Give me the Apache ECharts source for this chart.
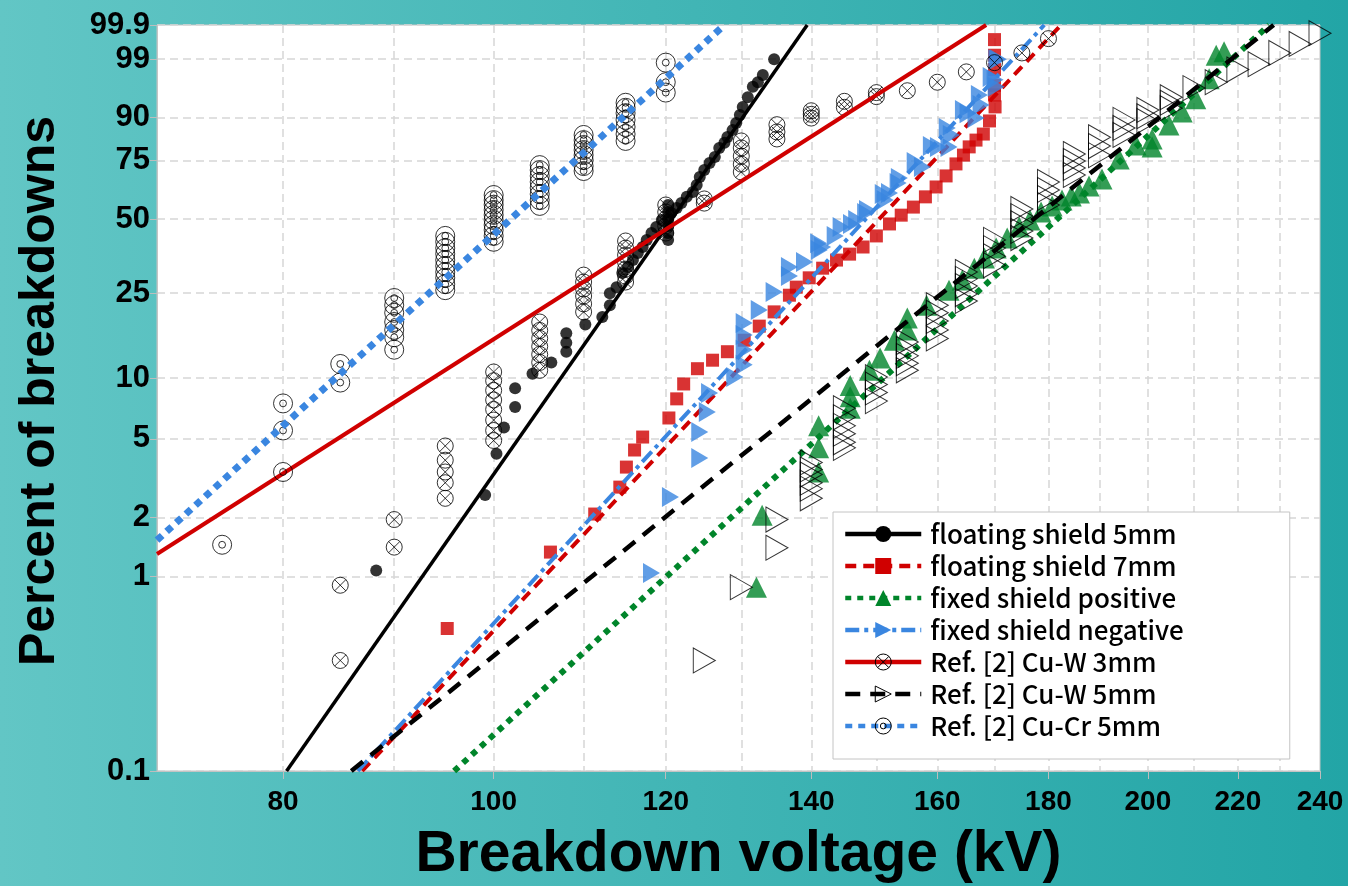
<!DOCTYPE html>
<html>
<head>
<meta charset="utf-8">
<script src="https://cdn.jsdelivr.net/npm/echarts@6/dist/echarts.min.js"></script>
<style>
  html, body { margin: 0; padding: 0; width: 1348px; height: 886px; overflow: hidden; }
  #chart { width: 1348px; height: 886px; }
</style>
</head>
<body>
<div id="chart"></div>
<script>
// Weibull probability plot of breakdown voltages.
// Horizontal scale: ln(kV); vertical scale: ln(-ln(1 - p)).

const xRange = [70, 240];
const yRange = [0.1, 99.9];
const xLabelValues = [80, 100, 120, 140, 160, 180, 200, 220, 240];
const xGridValues = [80, 90, 100, 110, 120, 130, 140, 150, 160, 170, 180, 190, 200, 210, 220, 230];
const yLabelValues = [0.1, 1, 2, 5, 10, 25, 50, 75, 90, 99, 99.9];
const yLabelTexts = ['0.1', '1', '2', '5', '10', '25', '50', '75', '90', '99', '99.9'];

const seriesNames = [
  'floating shield 5mm',
  'floating shield 7mm',
  'fixed shield positive',
  'fixed shield negative',
  'Ref. [2] Cu-W 3mm',
  'Ref. [2] Cu-W 5mm',
  'Ref. [2] Cu-Cr 5mm'
];

// measured points: [kV, percent]
const floating5Points = [
  [88.3, 1.07], [99.1, 2.6], [100.3, 4.2], [101.1, 5.7], [102.3, 7.2], [102.3, 8.9], [104.2, 10.5],
  [106.3, 11.9], [108.0, 13.4], [108.0, 14.8], [108.0, 16.4], [110.2, 18.0], [112.2, 19.5], [113.1, 22.1],
  [113.1, 25.0], [113.9, 26.6], [114.6, 30.6], [115.3, 32.5], [115.9, 34.7], [116.5, 37.1], [117.1, 39.2],
  [117.6, 41.8], [118.2, 44.4], [118.8, 46.8], [119.5, 49.6],
  [120.3, 41.8], [120.3, 44.4], [120.3, 47.2], [120.3, 50.0], [120.3, 52.9], [120.3, 55.9],
  [120.7, 52.5], [121.4, 54.6], [122.0, 56.7], [122.7, 59.4], [123.5, 61.5], [124.0, 64.6], [124.4, 68.0],
  [125.0, 71.0], [125.7, 74.0], [126.4, 76.4], [127.0, 80.0], [127.7, 81.9], [128.1, 84.0], [128.8, 86.3],
  [129.3, 88.5], [129.8, 90.7], [130.2, 92.7], [130.9, 94.7], [131.6, 96.4], [132.3, 97.0], [133.0, 97.8],
  [134.6, 99.0]
];
const floating7Points = [
  [95.2, 0.54], [106.2, 1.33], [111.3, 2.08], [114.3, 2.85], [115.1, 3.6], [116.1, 4.39], [117.1, 5.1],
  [120.4, 6.35], [121.4, 7.9], [122.3, 9.35], [124.1, 11.1], [126.1, 12.2], [128.1, 13.4],
  [130.4, 15.2], [132.5, 17.7], [134.6, 20.6], [136.8, 24.5], [137.8, 26.6], [139.7, 29.2], [141.7, 32.1],
  [143.8, 34.7], [145.8, 36.7], [147.9, 39.2], [150.0, 43.3], [152.1, 48.0], [154.0, 51.6], [156.0, 55.0],
  [158.0, 59.4], [159.8, 63.7], [161.5, 68.5], [163.2, 73.6], [164.5, 77.2], [165.5, 80.4], [166.7, 82.9],
  [168.0, 85.0], [169.1, 89.1], [170.1, 92.7],
  [170.0, 95.1], [170.0, 96.6], [170.0, 98.3], [170.0, 99.2], [170.0, 99.7]
];
const positivePoints = [
  [132.1, 0.88], [132.9, 2.05], [141.1, 3.4], [141.1, 4.5], [141.1, 5.8], [145.9, 7.1], [145.9, 8.1],
  [145.9, 9.2], [148.9, 10.9], [150.6, 12.5], [152.9, 15.2], [155.0, 17.0], [155.0, 19.3], [158.2, 22.1],
  [162.0, 25.8], [164.3, 28.6], [166.4, 32.1], [168.2, 35.4], [170.3, 38.8], [172.3, 42.5], [174.5, 46.8],
  [176.5, 49.6], [178.6, 52.9], [180.7, 55.5], [182.6, 58.0], [184.4, 59.8], [186.0, 61.1], [187.9, 64.1],
  [190.5, 67.2], [194.0, 75.6], [197.5, 81.1], [200.9, 80.4], [200.9, 83.3], [204.5, 87.9],
  [207.4, 91.5], [210.4, 94.4], [213.4, 97.4], [215.0, 99.2], [216.8, 99.35]
];
const negativePoints = [
  [118.2, 1.04], [120.6, 2.54], [124.4, 4.0], [124.4, 5.4], [125.4, 6.8], [125.7, 8.45], [129.1, 10.1],
  [130.4, 11.6], [130.4, 13.7], [130.4, 16.1], [130.4, 18.3], [132.5, 21.0], [134.6, 25.3], [136.8, 29.7],
  [136.8, 32.5], [139.0, 34.1], [141.1, 40.6], [141.2, 38.1], [141.7, 39.2], [143.6, 43.3], [144.5, 46.8],
  [146.1, 48.0], [146.9, 49.6], [148.3, 52.5], [148.6, 53.8], [151.1, 60.6], [151.4, 58.0], [152.1, 61.1],
  [153.5, 65.4], [153.7, 67.6], [156.3, 74.4], [157.5, 72.3], [159.0, 80.7], [160.2, 80.4], [161.7, 87.0],
  [162.0, 80.4], [162.4, 84.7], [164.5, 92.0], [165.3, 91.2], [166.7, 89.9], [167.3, 95.1], [167.6, 93.1],
  [169.4, 97.6], [170.1, 97.3], [170.3, 96.4], [170.4, 99.0], [170.7, 99.0]
];
const cuW3Points = [
  [85, 0.37], [85, 0.90], [90, 1.41], [90, 1.95],
  [95, 2.5], [95, 3.0], [95, 3.4], [95, 3.9], [95, 4.6],
  [100, 4.9], [100, 5.5], [100, 6.2], [100, 7.0], [100, 7.8], [100, 8.7], [100, 9.7], [100, 10.7],
  [105, 10.9], [105, 11.9], [105, 13.0], [105, 14.2], [105, 15.5], [105, 16.9], [105, 18.5],
  [110, 20.6], [110, 22.4], [110, 24.3], [110, 26.1], [110, 28.0], [110, 30.0],
  [115, 28.0], [115, 29.7], [115, 31.8], [115, 34.0], [115, 36.4], [115, 38.8], [115, 41.4],
  [120, 44.4], [120, 47.2], [120, 50.0], [120, 52.9], [120, 55.9],
  [125, 56.7], [125, 58.5],
  [130, 70.2], [130, 73.5], [130, 76.8], [130, 80.0], [130, 82.6],
  [135, 83.3], [135, 85.7], [135, 88.0],
  [140, 89.9], [140, 90.9], [140, 91.8],
  [145, 92.6], [145, 93.9], [150, 94.8], [150, 95.5], [155, 95.8], [160, 97.0], [165, 98.1],
  [170, 98.8], [175, 99.3], [180, 99.72]
];
const cuW5Points = [
  [125, 0.37], [130, 0.88], [135, 1.40], [135, 1.95],
  [140, 2.5], [140, 2.8], [140, 3.0], [140, 3.3], [140, 3.5], [140, 3.8],
  [145, 4.5], [145, 4.8], [145, 5.3], [145, 5.8], [145, 6.4], [145, 7.1],
  [150, 7.7], [150, 8.5], [150, 9.3], [150, 10.1],
  [155, 10.9], [155, 11.8], [155, 12.8], [155, 13.8], [155, 14.9],
  [160, 15.5], [160, 17.0], [160, 18.7], [160, 20.4], [160, 22.1],
  [165, 23.1], [165, 24.8], [165, 26.9], [165, 28.9], [165, 30.9],
  [170, 33.0], [170, 36.0], [170, 38.8], [170, 41.8],
  [175, 42.5], [175, 45.2], [175, 48.3], [175, 51.2], [175, 54.2],
  [180, 55.9], [180, 58.9], [180, 62.4], [180, 65.9],
  [185, 68.9], [185, 71.9], [185, 74.8], [185, 77.6],
  [190, 77.2], [190, 80.7], [190, 83.9],
  [195, 84.7], [195, 87.0], [195, 89.4],
  [200, 89.1], [200, 90.4], [200, 92.0],
  [205, 92.4], [205, 93.6], [205, 94.7],
  [210, 96.2], [215, 97.0], [220, 98.3], [225, 98.7], [230, 99.3], [235, 99.6], [240, 99.81]
];
const cuCr5Points = [
  [75, 1.45],
  [80, 3.4], [80, 5.5], [80, 7.5],
  [85, 9.5], [85, 11.7],
  [90, 13.7], [90, 15.7], [90, 17.0], [90, 18.5], [90, 20.4], [90, 22.1], [90, 23.8],
  [95, 25.8], [95, 27.4], [95, 29.2], [95, 30.9], [95, 32.8], [95, 34.7], [95, 36.8], [95, 38.8], [95, 41.1], [95, 43.3],
  [100, 41.1], [100, 43.3], [100, 45.6], [100, 47.6], [100, 49.6], [100, 51.7], [100, 53.8], [100, 56.0], [100, 58.0], [100, 60.2],
  [105, 55.5], [105, 58.0], [105, 60.6], [105, 63.3], [105, 65.9], [105, 68.5], [105, 71.0], [105, 73.1],
  [110, 70.6], [110, 72.7], [110, 75.2], [110, 77.2], [110, 79.2], [110, 81.1], [110, 82.9], [110, 84.7],
  [115, 82.6], [115, 85.0], [115, 87.3], [115, 89.4], [115, 91.2], [115, 92.5], [115, 93.6],
  [120, 95.5], [120, 97.0], [120, 98.8]
];

// Weibull fit lines: [kV, percent] end points
const floating5Fit = [[80.3, 0.1], [139.4, 99.9]];
const floating7Fit = [[87.0, 0.1], [182.4, 99.9]];
const positiveFit = [[95.9, 0.1], [227.4, 99.9]];
const negativeFit = [[86.6, 0.1], [179.2, 99.9]];
const cuW3Fit = [[70.0, 1.30], [168.5, 99.9]];
const cuW5Fit = [[86.0, 0.1], [228.5, 99.9]];
const cuCr5Fit = [[70.0, 1.53], [127.7, 99.9]];

const tx = v => Math.log(v);
const ty = p => Math.log(-Math.log(1 - p / 100));
const toXY = pts => pts.map(d => [tx(d[0]), ty(d[1])]);

const SYM_CIRCLE_X = 'path://M10 0A10 10 0 1 1 -10 0A10 10 0 1 1 10 0Z M-7.07 -7.07L7.07 7.07M7.07 -7.07L-7.07 7.07';
const SYM_DOUBLE_CIRCLE = 'path://M10 0A10 10 0 1 1 -10 0A10 10 0 1 1 10 0Z M3.6 0A3.6 3.6 0 1 1 -3.6 0A3.6 3.6 0 1 1 3.6 0Z';
const SYM_RIGHT_TRI = 'path://M0 0L22 12.5L0 25Z';

const groups = [
  { name: seriesNames[0], pts: floating5Points, fit: floating5Fit, color: '#000000',
    line: { color: '#000000', width: 3.5, type: 'solid' },
    symbol: 'circle', size: 12, item: { color: '#000000' } },
  { name: seriesNames[1], pts: floating7Points, fit: floating7Fit, color: '#d00000',
    line: { color: '#d00000', width: 4, type: [11, 7] },
    symbol: 'rect', size: 13, item: { color: '#d00000' } },
  { name: seriesNames[2], pts: positivePoints, fit: positiveFit, color: '#00852a',
    line: { color: '#00852a', width: 6, type: [6, 6] },
    symbol: 'triangle', size: [21, 21], item: { color: '#00852a' } },
  { name: seriesNames[3], pts: negativePoints, fit: negativeFit, color: '#3a86e0',
    line: { color: '#3a86e0', width: 4, type: [14, 5, 4, 5] },
    symbol: SYM_RIGHT_TRI, size: [17, 20], item: { color: '#3a86e0' } },
  { name: seriesNames[4], pts: cuW3Points, fit: cuW3Fit, color: '#d00000',
    line: { color: '#d00000', width: 4, type: 'solid' },
    symbol: SYM_CIRCLE_X, size: 16, item: { color: 'rgba(0,0,0,0)', borderColor: '#000', borderWidth: 1 } },
  { name: seriesNames[5], pts: cuW5Points, fit: cuW5Fit, color: '#000000',
    line: { color: '#000000', width: 4.5, type: [15, 10] },
    symbol: SYM_RIGHT_TRI, size: [22, 25], item: { color: 'rgba(0,0,0,0)', borderColor: '#000', borderWidth: 1 } },
  { name: seriesNames[6], pts: cuCr5Points, fit: cuCr5Fit, color: '#3a86e0',
    line: { color: '#3a86e0', width: 7, type: [7, 6] },
    symbol: SYM_DOUBLE_CIRCLE, size: 19, item: { color: 'rgba(0,0,0,0)', borderColor: '#000', borderWidth: 1 } }
];

const series = [];
groups.forEach((g, i) => {
  series.push({
    type: 'line', name: g.name, data: toXY(g.fit), xAxisIndex: 0,
    showSymbol: false, symbol: g.symbol,
    color: g.color, lineStyle: g.line, itemStyle: g.item,
    z: 3 + 2 * i, silent: true, animation: false
  });
});
groups.forEach((g, i) => {
  series.push({
    type: 'scatter', name: g.name, data: toXY(g.pts), xAxisIndex: 0,
    symbol: g.symbol, symbolSize: g.size, itemStyle: g.item,
    z: 2 + 2 * i, silent: true, animation: false
  });
});

const legendData = groups.map(g => {
  const d = { name: g.name };
  if (g.item.borderColor) d.itemStyle = { color: 'rgba(0,0,0,0)', borderColor: '#000', borderWidth: 1 };
  return d;
});

const yLabelFor = v => {
  let best = 0, bd = Infinity;
  yLabelValues.forEach((p, k) => { const d = Math.abs(ty(p) - v); if (d < bd) { bd = d; best = k; } });
  return yLabelTexts[best];
};

const labelFamily = '"Liberation Sans", Arial, sans-serif';
const gridDash = { color: '#d6d6d6', width: 1.5, type: [8, 5] };

const option = {
  animation: false,
  backgroundColor: {
    type: 'linear', x: 0, y: 0, x2: 1, y2: 0,
    colorStops: [{ offset: 0, color: '#62c6c5' }, { offset: 1, color: '#22a5a6' }]
  },
  grid: {
    left: 157, top: 25, right: 28, bottom: 115,
    outerBoundsMode: 'none', containLabel: false,
    show: true, backgroundColor: '#ffffff', borderColor: '#c4c4c4', borderWidth: 1
  },
  xAxis: [
    {
      type: 'value', min: tx(xRange[0]), max: tx(xRange[1]),
      name: 'Breakdown voltage (kV)', nameLocation: 'middle', nameGap: 56,
      nameTextStyle: { fontFamily: labelFamily, fontWeight: 'bold', fontSize: 57, color: '#000' },
      axisLine: { show: true, onZero: false, lineStyle: { color: '#c4c4c4', width: 1 } },
      axisTick: { show: false, customValues: xGridValues.map(tx) },
      splitLine: { show: true, lineStyle: gridDash },
      axisLabel: {
        customValues: xLabelValues.map(tx), margin: 17, hideOverlap: false,
        formatter: v => String(Math.round(Math.exp(v))),
        fontFamily: labelFamily, fontWeight: 'bold', fontSize: 28, color: '#000'
      }
    },
    {
      type: 'value', min: tx(xRange[0]), max: tx(xRange[1]), position: 'bottom',
      axisLine: { show: false, onZero: false },
      axisTick: { show: true, inside: false, length: 8, customValues: xLabelValues.map(tx), lineStyle: { color: '#bdbdbd' } },
      axisLabel: { show: false }, splitLine: { show: false }
    }
  ],
  yAxis: {
    type: 'value', min: ty(yRange[0]), max: ty(yRange[1]),
    name: 'Percent of breakdowns', nameLocation: 'middle', nameGap: 92, nameRotate: 90,
    nameTextStyle: { fontFamily: labelFamily, fontWeight: 'bold', fontSize: 50, color: '#000', padding: [0, 0, 0, 14] },
    axisLine: { show: true, onZero: false, lineStyle: { color: '#c4c4c4', width: 1 } },
    axisTick: { show: true, length: 7, customValues: yLabelValues.map(ty), lineStyle: { color: '#bdbdbd' } },
    splitLine: { show: true, lineStyle: gridDash },
    axisLabel: {
      customValues: yLabelValues.map(ty), margin: 7, hideOverlap: false, formatter: yLabelFor,
      fontFamily: labelFamily, fontWeight: 'bold', fontSize: 31, color: '#000'
    }
  },
  legend: {
    orient: 'vertical', left: 833, top: 512,
    data: legendData,
    itemWidth: 76, itemHeight: 20, itemGap: 6,
    padding: [9, 106, 20, 10],
    backgroundColor: '#ffffff', borderColor: '#c4c4c4', borderWidth: 1, borderRadius: 0,
    lineStyle: { width: 4.5 },
    textStyle: { fontFamily: '"Noto Sans CJK KR", "Noto Sans", sans-serif', fontWeight: 500, fontSize: 26, lineHeight: 26, color: '#000', padding: [0, 0, 0, 4] },
    selectedMode: false
  },
  series: series
};

const chart = echarts.init(document.getElementById('chart'), null, { renderer: 'canvas' });
chart.setOption(option);
</script>
</body>
</html>
